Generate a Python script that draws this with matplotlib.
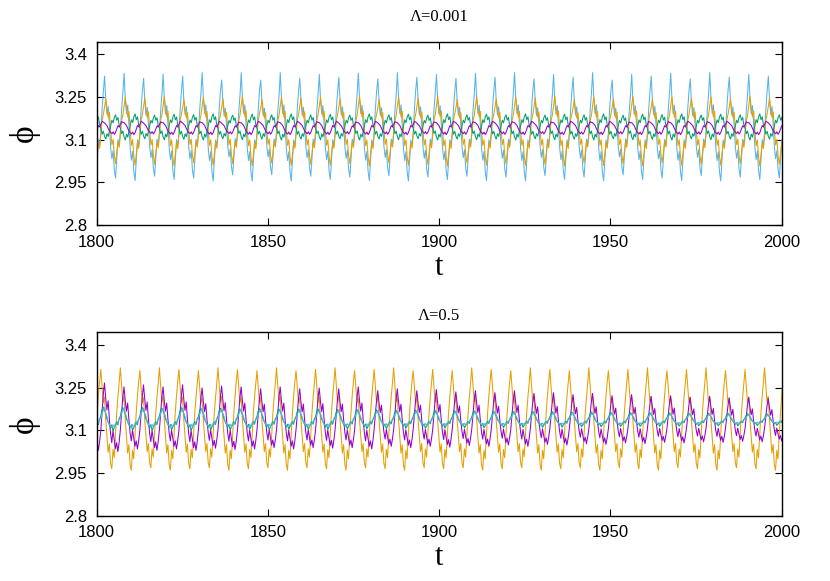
import numpy as np
import matplotlib.pyplot as plt

# phi(t): one cycle shape per curve (16 samples per period)
# and the size of each cycle relative to that shape
period = 5.7
ticks_x = [1800, 1850, 1900, 1950, 2000]
ticks_y = [2.8, 2.95, 3.1, 3.25, 3.4]
tick_labels_y = ['2.8', '2.95', '3.1', '3.25', '3.4']

# Lambda = 0.001
top_t0 = 1796.6
top_purple_wave = [3.160, 3.155, 3.150, 3.140, 3.130, 3.125, 3.120, 3.127, 3.118,
                   3.125, 3.138, 3.150, 3.145, 3.155, 3.165, 3.162]
top_green_wave = [3.11, 3.10, 3.12, 3.11, 3.13, 3.15, 3.17, 3.16, 3.18, 3.19,
                  3.17, 3.18, 3.15, 3.14, 3.12, 3.13]
top_blue_wave = [3.33, 3.24, 3.19, 3.22, 3.15, 3.07, 3.03, 3.06, 2.99, 2.96,
                 3.03, 3.10, 3.08, 3.13, 3.21, 3.27]
top_orange_wave = [3.22, 3.25, 3.21, 3.18, 3.20, 3.13, 3.08, 3.10, 3.04, 3.01,
                   3.05, 3.09, 3.07, 3.12, 3.17, 3.19]
top_purple_amp = [1.0, 0.95, 1.0, 0.9, 1.0, 0.95, 1.0, 0.9, 1.0, 0.95, 1.0, 0.95,
                  1.0, 0.9, 1.0, 0.95, 1.0, 0.9, 1.0, 0.95, 1.0, 0.95, 1.0, 0.9,
                  1.0, 0.95, 1.0, 0.9, 1.0, 0.95, 1.0, 0.95, 1.0, 0.9, 1.0, 0.95]
top_green_amp = [1.0, 0.95, 1.02, 0.93, 1.0, 0.97, 1.02, 0.92, 1.0, 0.95, 1.02, 0.95,
                 1.0, 0.93, 1.02, 0.95, 1.0, 0.92, 1.02, 0.95, 1.0, 0.95, 1.02, 0.93,
                 1.0, 0.95, 1.02, 0.92, 1.0, 0.97, 1.02, 0.93, 1.0, 0.95, 1.02, 0.95]
top_blue_amp = [1.0, 0.97, 1.02, 0.93, 1.0, 0.97, 1.03, 0.9, 1.03, 0.9, 1.03, 0.93,
                1.0, 0.95, 1.02, 0.92, 1.03, 0.95, 1.0, 0.93, 1.02, 0.95, 1.03, 0.92,
                1.0, 0.95, 1.03, 0.9, 1.0, 0.97, 1.02, 0.92, 1.03, 0.95, 1.0, 0.97]
top_orange_amp = [1.0, 0.95, 1.0, 0.97, 1.02, 0.93, 1.0, 0.95, 1.02, 0.93, 1.0, 0.97,
                  1.0, 0.95, 1.02, 0.93, 1.0, 0.97, 1.02, 0.93, 1.0, 0.95, 1.0, 0.97,
                  1.02, 0.93, 1.0, 0.95, 1.02, 0.93, 1.0, 0.97, 1.0, 0.95, 1.02, 0.97]

# Lambda = 0.5
bot_t0 = 1795.5
bot_purple_wave = [3.10, 3.16, 3.22, 3.26, 3.21, 3.17, 3.20, 3.14, 3.09, 3.06,
                   3.10, 3.07, 3.04, 3.06, 3.03, 3.06]
bot_green_wave = [3.15, 3.17, 3.18, 3.17, 3.16, 3.14, 3.13, 3.12, 3.11, 3.12,
                  3.10, 3.11, 3.12, 3.13, 3.12, 3.14]
bot_blue_wave = [3.14, 3.16, 3.17, 3.18, 3.16, 3.15, 3.13, 3.12, 3.115, 3.11,
                 3.12, 3.11, 3.125, 3.12, 3.13, 3.14]
bot_orange_wave = [3.32, 3.26, 3.20, 3.22, 3.14, 3.08, 3.02, 3.05, 2.98, 2.96,
                   3.03, 3.00, 3.08, 3.16, 3.22, 3.27]
bot_purple_amp = [1.0, 1.05, 0.95, 1.0, 0.95, 1.0, 0.92, 0.97, 0.95, 0.9, 0.95, 0.9,
                  0.92, 0.9, 0.95, 0.85, 0.9, 0.85, 0.88, 0.82, 0.85, 0.8, 0.85, 0.78,
                  0.8, 0.75, 0.78, 0.72, 0.75, 0.7, 0.72, 0.68, 0.7, 0.66, 0.68, 0.65, 0.65]
bot_green_amp = [1.0, 1.05, 1.0, 1.0, 0.95, 1.0, 0.95, 0.95, 0.9, 0.92, 0.9, 0.88,
                 0.9, 0.85, 0.85, 0.82, 0.8, 0.8, 0.78, 0.75, 0.75, 0.72, 0.7, 0.7,
                 0.68, 0.65, 0.65, 0.62, 0.6, 0.6, 0.58, 0.55, 0.55, 0.55, 0.52, 0.5, 0.5]
bot_blue_amp = [1.0, 1.0, 0.98, 0.95, 0.95, 0.92, 0.92, 0.9, 0.88, 0.88, 0.85, 0.85,
                0.82, 0.8, 0.8, 0.78, 0.75, 0.75, 0.72, 0.7, 0.7, 0.68, 0.65, 0.65,
                0.62, 0.6, 0.6, 0.58, 0.55, 0.55, 0.52, 0.5, 0.5, 0.48, 0.48, 0.45, 0.45]
bot_orange_amp = [1.0, 0.97, 1.0, 0.95, 1.0, 0.97, 0.95, 1.0, 0.97, 0.95, 1.0, 0.95,
                  0.97, 1.0, 0.95, 0.97, 1.0, 0.95, 0.97, 0.95, 1.0, 0.97, 0.95, 1.0,
                  0.97, 0.95, 1.0, 0.95, 0.97, 1.0, 0.95, 0.97, 1.0, 0.95, 0.97, 1.0, 0.97]

colors = {'purple': '#9400d3', 'green': '#009e73', 'blue': '#56b4e9', 'orange': '#e69f00'}


def build(wave, amp):
    w = np.array(wave)
    m = w.mean()
    return np.concatenate([m + a * (w - m) for a in amp])


def times(t0, vals, n):
    return t0 + np.arange(len(vals)) * period / n


fig = plt.figure(figsize=(8.3, 5.81), dpi=100)
ax1 = fig.add_axes([0.1165, 0.6127, 0.8253, 0.3156])
ax2 = fig.add_axes([0.1165, 0.1124, 0.8253, 0.3157])

top = [('blue', top_blue_wave, top_blue_amp), ('orange', top_orange_wave, top_orange_amp),
       ('green', top_green_wave, top_green_amp), ('purple', top_purple_wave, top_purple_amp)]
for c, w, a in top:
    v = build(w, a)
    ax1.plot(times(top_t0, v, len(w)), v, color=colors[c], lw=0.75)

bot = [('orange', bot_orange_wave, bot_orange_amp), ('purple', bot_purple_wave, bot_purple_amp),
       ('green', bot_green_wave, bot_green_amp), ('blue', bot_blue_wave, bot_blue_amp)]
for c, w, a in bot:
    v = build(w, a)
    ax2.plot(times(bot_t0, v, len(w)), v, color=colors[c], lw=0.75)

for ax, title, pad in [(ax1, 'Λ=0.001', 15), (ax2, 'Λ=0.5', 9)]:
    ax.set_xlim(1800, 2000)
    ax.set_ylim(2.8, 3.445)
    ax.set_xticks(ticks_x)
    ax.set_yticks(ticks_y)
    ax.set_yticklabels(tick_labels_y)
    ax.tick_params(direction='in', top=True, right=True, length=5, width=0.8,
                   labelsize=12, pad=7)
    for lab in ax.get_xticklabels() + ax.get_yticklabels():
        lab.set_family('Liberation Sans')
    for s in ax.spines.values():
        s.set_linewidth(1.0)
    ax.set_title(title, family='Liberation Serif', fontsize=12, pad=pad)
    ax.set_xlabel('t', family='Liberation Serif', fontsize=22)
    ax.xaxis.set_label_coords(0.5, -0.15)
    ax.set_ylabel('ϕ', family=['Liberation Serif', 'DejaVu Serif'], fontsize=24, rotation=90)
    ax.yaxis.set_label_coords(-0.083, 0.5)

fig.savefig('out.png', dpi=100)
